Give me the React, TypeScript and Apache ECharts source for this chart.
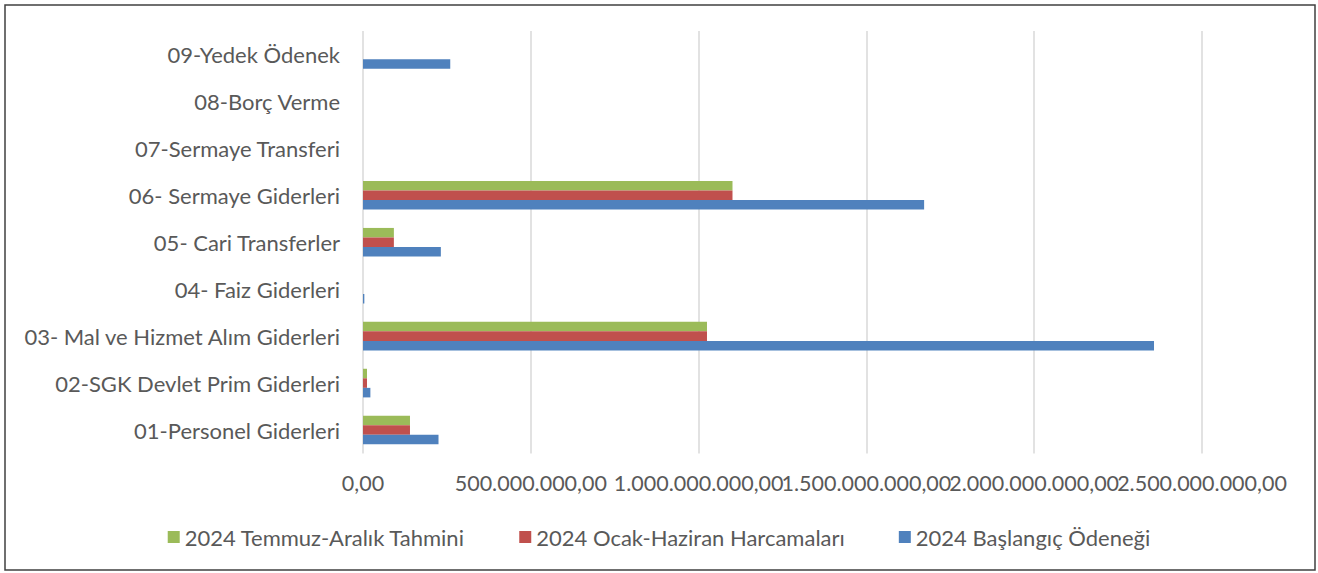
import React, { useEffect, useRef } from "react";
import * as echarts from "echarts";

const categories = [
  "01-Personel Giderleri",
  "02-SGK Devlet Prim Giderleri",
  "03- Mal ve Hizmet Alım Giderleri",
  "04- Faiz Giderleri",
  "05- Cari Transferler",
  "06- Sermaye Giderleri",
  "07-Sermaye Transferi",
  "08-Borç Verme",
  "09-Yedek Ödenek",
];

const seriesNames = [
  "2024 Temmuz-Aralık Tahmini",
  "2024 Ocak-Haziran Harcamaları",
  "2024 Başlangıç Ödeneği",
];

const temmuzAralik = [140e6, 12e6, 1025e6, 0, 92e6, 1101e6, 0, 0, 0];
const ocakHaziran = [140e6, 12e6, 1025e6, 0, 92e6, 1101e6, 0, 0, 0];
const baslangic = [225e6, 22e6, 2357e6, 4e6, 232e6, 1672e6, 0, 0, 260e6];

const axisMin = 0;
const axisMax = 2500000000;
const axisStep = 500000000;

const colors = ["#9BBB59", "#C0504D", "#4F81BD"];

function fmt(v: number): string {
  const s = Math.round(v).toString().replace(/\B(?=(\d{3})+(?!\d))/g, ".");
  return s + ",00";
}

export default function App() {
  const ref = useRef<HTMLDivElement>(null);
  useEffect(() => {
    if (!ref.current) return;
    const chart = echarts.init(ref.current, null, { renderer: "svg" });
    const font = "Lato, 'Open Sans', sans-serif";
    const data = [temmuzAralik, ocakHaziran, baslangic];
    const labelBase = {
      fontFamily: font,
      fontSize: 21.5,
      color: "#595959",
      margin: 18,
      hideOverlap: false,
      showMinLabel: true,
      showMaxLabel: true,
    };
    const isEven = (v: number) => Math.round(v / axisStep) % 2 === 0;
    chart.setOption({
      animation: false,
      textStyle: { fontFamily: font },
      graphic: [
        {
          type: "rect",
          shape: { x: 5, y: 5, width: 1310, height: 565 },
          style: { fill: "none", stroke: "#404040", lineWidth: 1.5 },
          silent: true,
        },
      ],
      legend: {
        data: seriesNames,
        left: "center",
        top: 521,
        itemWidth: 12,
        itemHeight: 12,
        itemGap: 54,
        icon: "rect",
        textStyle: { fontFamily: font, fontSize: 22, color: "#595959" },
      },
      grid: { left: 363, right: 116, top: 31, bottom: 119.5, containLabel: false },
      xAxis: [
        {
          type: "value",
          position: "bottom",
          min: axisMin,
          max: axisMax,
          interval: axisStep,
          axisLine: { show: false },
          axisTick: { show: false },
          splitLine: { show: true, lineStyle: { color: "#D9D9D9", width: 1.5 } },
          axisLabel: { ...labelBase, formatter: (v: number) => (isEven(v) ? fmt(v) : "") },
        },
        {
          type: "value",
          position: "bottom",
          offset: 0,
          min: axisMin,
          max: axisMax,
          interval: axisStep,
          axisLine: { show: false },
          axisTick: { show: false },
          splitLine: { show: false },
          axisLabel: { ...labelBase, formatter: (v: number) => (isEven(v) ? "" : fmt(v)) },
        },
      ],
      yAxis: {
        type: "category",
        data: categories,
        axisLine: { show: false },
        axisTick: { show: false },
        splitLine: { show: false },
        axisLabel: { fontFamily: font, fontSize: 22, color: "#595959", margin: 23 },
      },
      series: seriesNames.map((name, i) => ({
        name,
        type: "bar",
        xAxisIndex: 0,
        data: data[i],
        barGap: "0%",
        barCategoryGap: "39%",
        itemStyle: { color: colors[i] },
      })),
    });
    return () => chart.dispose();
  }, []);
  return (
    <div
      ref={ref}
      style={{ position: "absolute", left: 0, top: 0, width: 1318, height: 573, background: "#fff" }}
    />
  );
}
